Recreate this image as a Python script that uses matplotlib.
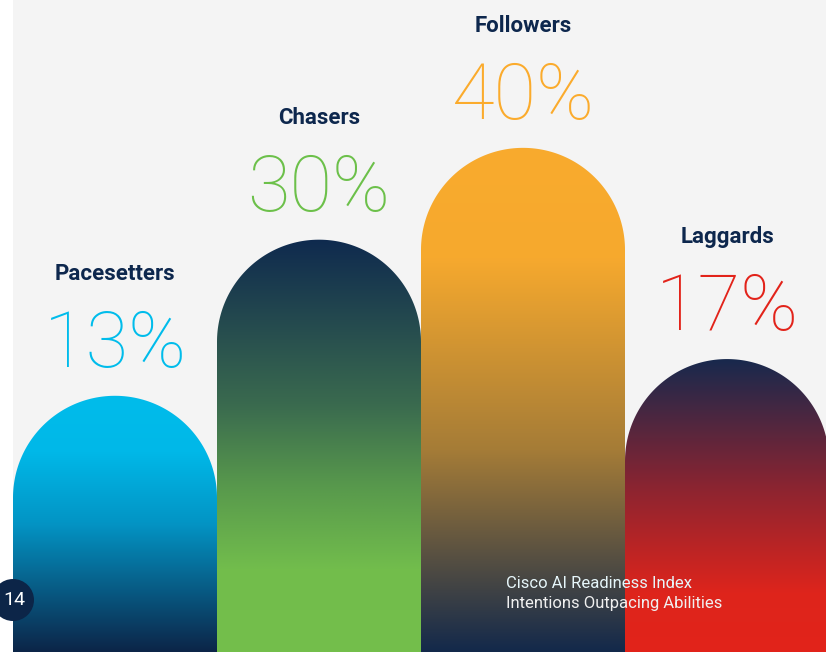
import numpy as np
import matplotlib
matplotlib.use("Agg")
import matplotlib.pyplot as plt
from matplotlib.colors import LinearSegmentedColormap
from matplotlib.path import Path
from matplotlib.patches import PathPatch, Ellipse

# segment shares (%)
categories = ["Pacesetters", "Chasers", "Followers", "Laggards"]
shares = [13, 30, 40, 17]
value_labels = ["13%", "30%", "40%", "17%"]

NAVY = "#0d274d"
BG = "#f4f4f4"
accent = ["#00bceb", "#6cc04a", "#fbab2c", "#e2231a"]

# vertical gradient stops per bar, measured from the top of the bar (0) to the floor (1)
gradients = [
    [(0.0, "#00bceb"), (0.22, "#00b8e8"), (0.5, "#0394c4"), (1.0, "#0c2548")],
    [(0.0, "#0f2a4e"), (0.4, "#3a6a4f"), (0.6, "#58994c"), (0.8, "#72bd4c"), (1.0, "#74bf4b")],
    [(0.0, "#f9ab2d"), (0.22, "#f6a92e"), (0.6, "#a57c37"), (1.0, "#13294b")],
    [(0.0, "#18294d"), (0.45, "#8e2430"), (0.8, "#de251c"), (1.0, "#e2231a")],
]

W, H, DPI = 826, 652, 100
fig = plt.figure(figsize=(W / DPI, H / DPI), dpi=DPI, facecolor="white")
ax_left = 13
ax = fig.add_axes([ax_left / W, 0, (W - ax_left) / W, 1])
ax.set_facecolor(BG)
ax.set_axis_off()
ax.add_patch(plt.Rectangle((0, 0), 1, 1, transform=ax.transAxes, color=BG, zorder=0))

bar_px = 204
y_floor, y_ceil = -14.9, 56.1
ax.set_xlim(-0.5, -0.5 + (W - ax_left) / bar_px)
ax.set_ylim(y_floor, y_ceil)

px_x = bar_px
px_y = H / (y_ceil - y_floor)
ry = 0.5 * px_x / px_y  # semicircle height in data units


def rounded_bar(cx, top):
    t = np.linspace(0, np.pi, 120)
    arc_x = cx + 0.5 * np.cos(t)
    arc_y = top - ry + ry * np.sin(t)
    xs = np.concatenate([[cx + 0.5], arc_x, [cx - 0.5, cx + 0.5]])
    ys = np.concatenate([[y_floor], arc_y, [y_floor, y_floor]])
    verts = np.column_stack([xs, ys])
    codes = [Path.MOVETO] + [Path.LINETO] * (len(verts) - 2) + [Path.CLOSEPOLY]
    return Path(verts, codes)


for i, (name, v) in enumerate(zip(categories, shares)):
    cmap = LinearSegmentedColormap.from_list(name, gradients[i])
    grad = np.linspace(0, 1, 256).reshape(-1, 1)
    im = ax.imshow(grad, cmap=cmap, aspect="auto", origin="upper",
                   extent=(i - 0.5, i + 0.5, y_floor, v), zorder=2,
                   interpolation="bilinear")
    patch = PathPatch(rounded_bar(i, v), facecolor="none", edgecolor="none")
    ax.add_patch(patch)
    im.set_clip_path(patch)

    ax.annotate(value_labels[i], xy=(i, v), xytext=(0, 29 * 0.72),
                textcoords="offset points", ha="center", va="baseline",
                fontsize=56, color=accent[i], family="Roboto",
                fontweight="light", zorder=3)
    ax.annotate(name, xy=(i, v), xytext=(0, 116 * 0.72),
                textcoords="offset points", ha="center", va="baseline",
                fontsize=16, color=NAVY, family="Roboto",
                fontweight="bold", zorder=3)

ax.set_xlim(-0.5, -0.5 + (W - ax_left) / bar_px)
ax.set_ylim(y_floor, y_ceil)

# page badge
badge = Ellipse((13 / W, 1 - 600 / H), 42 / W, 42 / H, transform=fig.transFigure,
                facecolor="#0c2548", edgecolor="none", zorder=5)
fig.add_artist(badge)
fig.text(14 / W, 1 - 600 / H, "14", ha="center", va="center", color="white",
         fontsize=14, family="Roboto", zorder=6)

# footer
fig.text(506 / W, 1 - 588 / H, "Cisco AI Readiness Index", color="#e6f6fa",
         fontsize=12, family="Roboto", ha="left", va="baseline")
fig.text(506 / W, 1 - 608 / H, "Intentions Outpacing Abilities", color="#f0f0f0",
         fontsize=12, family="Roboto", ha="left", va="baseline")

fig.savefig("out.png", dpi=DPI, facecolor="white")
